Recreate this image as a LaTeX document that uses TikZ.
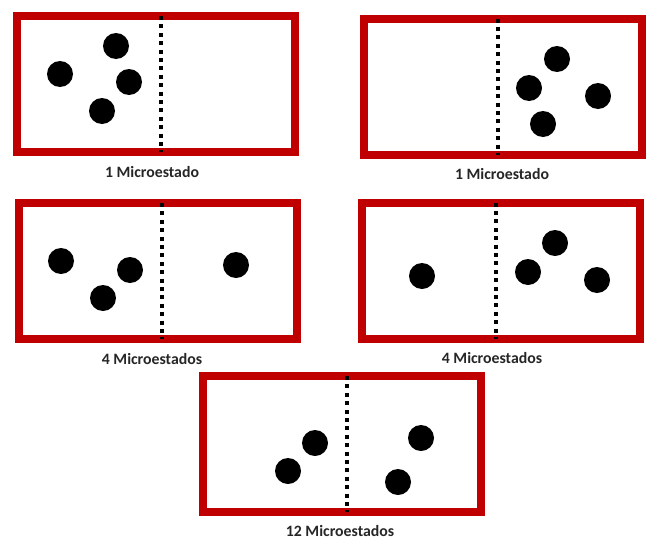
\documentclass[tikz,border=0pt]{standalone}
\usepackage{fontspec}
\setmainfont{Carlito}
\usepackage{tikz}
\usetikzlibrary{positioning}
\definecolor{cajared}{HTML}{C00000}

\begin{document}
\begin{tikzpicture}[x=1pt, y=-1pt,
    caja/.style={draw=cajared, line width=8pt, fill=white,
                 minimum width=278pt, minimum height=136pt, inner sep=0pt},
    bola/.style={circle, fill=black, minimum size=26pt, inner sep=0pt},
    divisor/.style={line width=4pt, dash pattern=on 4pt off 4.4pt},
    etiqueta/.style={font=\fontsize{15.8}{17}\selectfont\bfseries, text=black!85,
                     inner sep=1pt},
]
    \useasboundingbox (0,0) rectangle (648,541);

    % cajas
    \node[caja] (c1) at (156,84) {};
    \node[caja] (c2) at (502.5,86.5) {};
    \node[caja] (c3) at (157.5,271) {};
    \node[caja] (c4) at (500.5,270.5) {};
    \node[caja] (c5) at (342,444) {};

    % separaciones
    \draw[divisor] ([xshift=5pt,yshift=-4pt]c1.north) -- ([xshift=5pt,yshift=4pt]c1.south);
    \draw[divisor] ([xshift=-4.5pt,yshift=-4pt]c2.north) -- ([xshift=-4.5pt,yshift=4pt]c2.south);
    \draw[divisor] ([xshift=4.5pt,yshift=-4pt]c3.north) -- ([xshift=4.5pt,yshift=4pt]c3.south);
    \draw[divisor] ([xshift=-4.5pt,yshift=-4pt]c4.north) -- ([xshift=-4.5pt,yshift=4pt]c4.south);
    \draw[divisor] ([xshift=5pt,yshift=-4pt]c5.north) -- ([xshift=5pt,yshift=4pt]c5.south);

    % bolas
    \node[bola] (b1a) at (60,74) {};
    \node[bola] (b1b) at (116,46) {};
    \node[bola] (b1c) at (129,82) {};
    \node[bola] (b1d) at (102,111) {};

    \node[bola] (b2a) at (557,59) {};
    \node[bola] (b2b) at (529,88) {};
    \node[bola] (b2c) at (598,96) {};
    \node[bola] (b2d) at (543,124) {};

    \node[bola] (b3a) at (61,261) {};
    \node[bola] (b3b) at (130,270) {};
    \node[bola] (b3c) at (103,298) {};
    \node[bola] (b3d) at (236,265) {};

    \node[bola] (b4a) at (422,276) {};
    \node[bola] (b4b) at (555,243) {};
    \node[bola] (b4c) at (528,272) {};
    \node[bola] (b4d) at (597,280) {};

    \node[bola] (b5a) at (315,443) {};
    \node[bola] (b5b) at (288,471) {};
    \node[bola] (b5c) at (421,438) {};
    \node[bola] (b5d) at (398,482) {};

    % etiquetas
    \node[etiqueta] (e1) at (152,172) {1 Microestado};
    \node[etiqueta] (e2) at (502,174) {1 Microestado};
    \node[etiqueta] (e3) at (152,359) {4 Microestados};
    \node[etiqueta] (e4) at (492,358) {4 Microestados};
    \node[etiqueta] (e5) at (340,531) {12 Microestados};
\end{tikzpicture}
\end{document}
